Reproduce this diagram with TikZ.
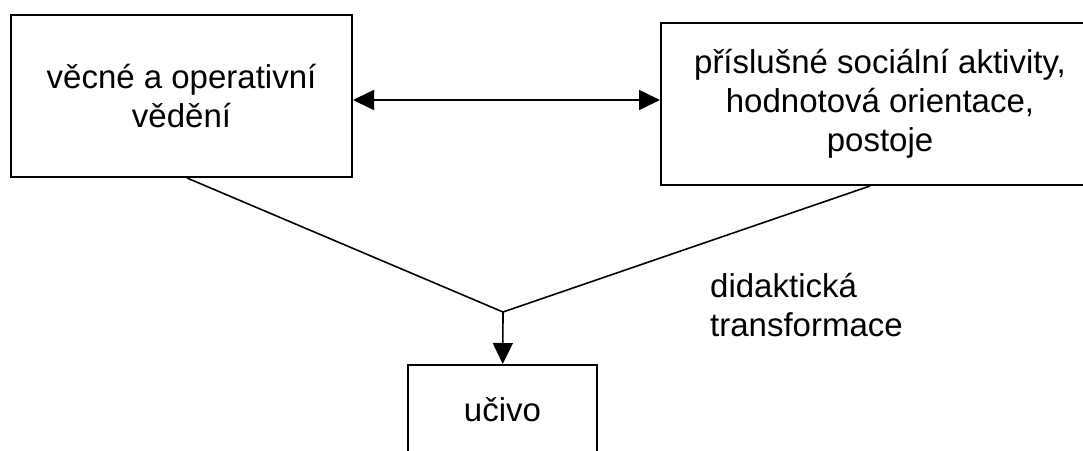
\documentclass[tikz,border=0pt]{standalone}
\usepackage{fontspec}
\setmainfont{Liberation Sans}
\usetikzlibrary{arrows.meta,positioning}

\begin{document}
\begin{tikzpicture}[
x=1pt, y=-1pt,
every node/.style={font=\fontsize{33}{39}\selectfont},
box/.style={draw, line width=2pt, align=center, minimum height=162pt},
line/.style={line width=1.6pt},
arrow/.style={line width=1.6pt, -{Triangle[length=21pt,width=20pt]}},
dblarrow/.style={line width=1.6pt, {Triangle[length=21pt,width=20pt]}-{Triangle[length=21pt,width=20pt]}}
]
\useasboundingbox (0,0) rectangle (1083,450);
\clip (0,0) rectangle (1083,450);
\fill[white] (0,0) rectangle (1083,450);

\node[box, minimum width=341pt] (vedeni) at (181.5,96) {věcné a operativní\\vědění};
\node[box, minimum width=438pt] (aktivity) at (880,104) {příslušné sociální aktivity,\\hodnotová orientace,\\postoje};
\node[box, minimum width=189pt, minimum height=90pt] (ucivo) at (502.5,410) {učivo};
\coordinate (spoj) at (503,312);
\node[inner sep=0pt, align=left, anchor=west] (transf) at (710,305) {didaktická\\transformace};

\draw[dblarrow] (vedeni.east |- 0,100) -- (aktivity.west |- 0,100);
\draw[line] (vedeni.south -| 187,0) -- (spoj);
\draw[line] (aktivity.south -| 870,0) -- (spoj);
\draw[arrow] (spoj) -- (ucivo);
\end{tikzpicture}
\end{document}
